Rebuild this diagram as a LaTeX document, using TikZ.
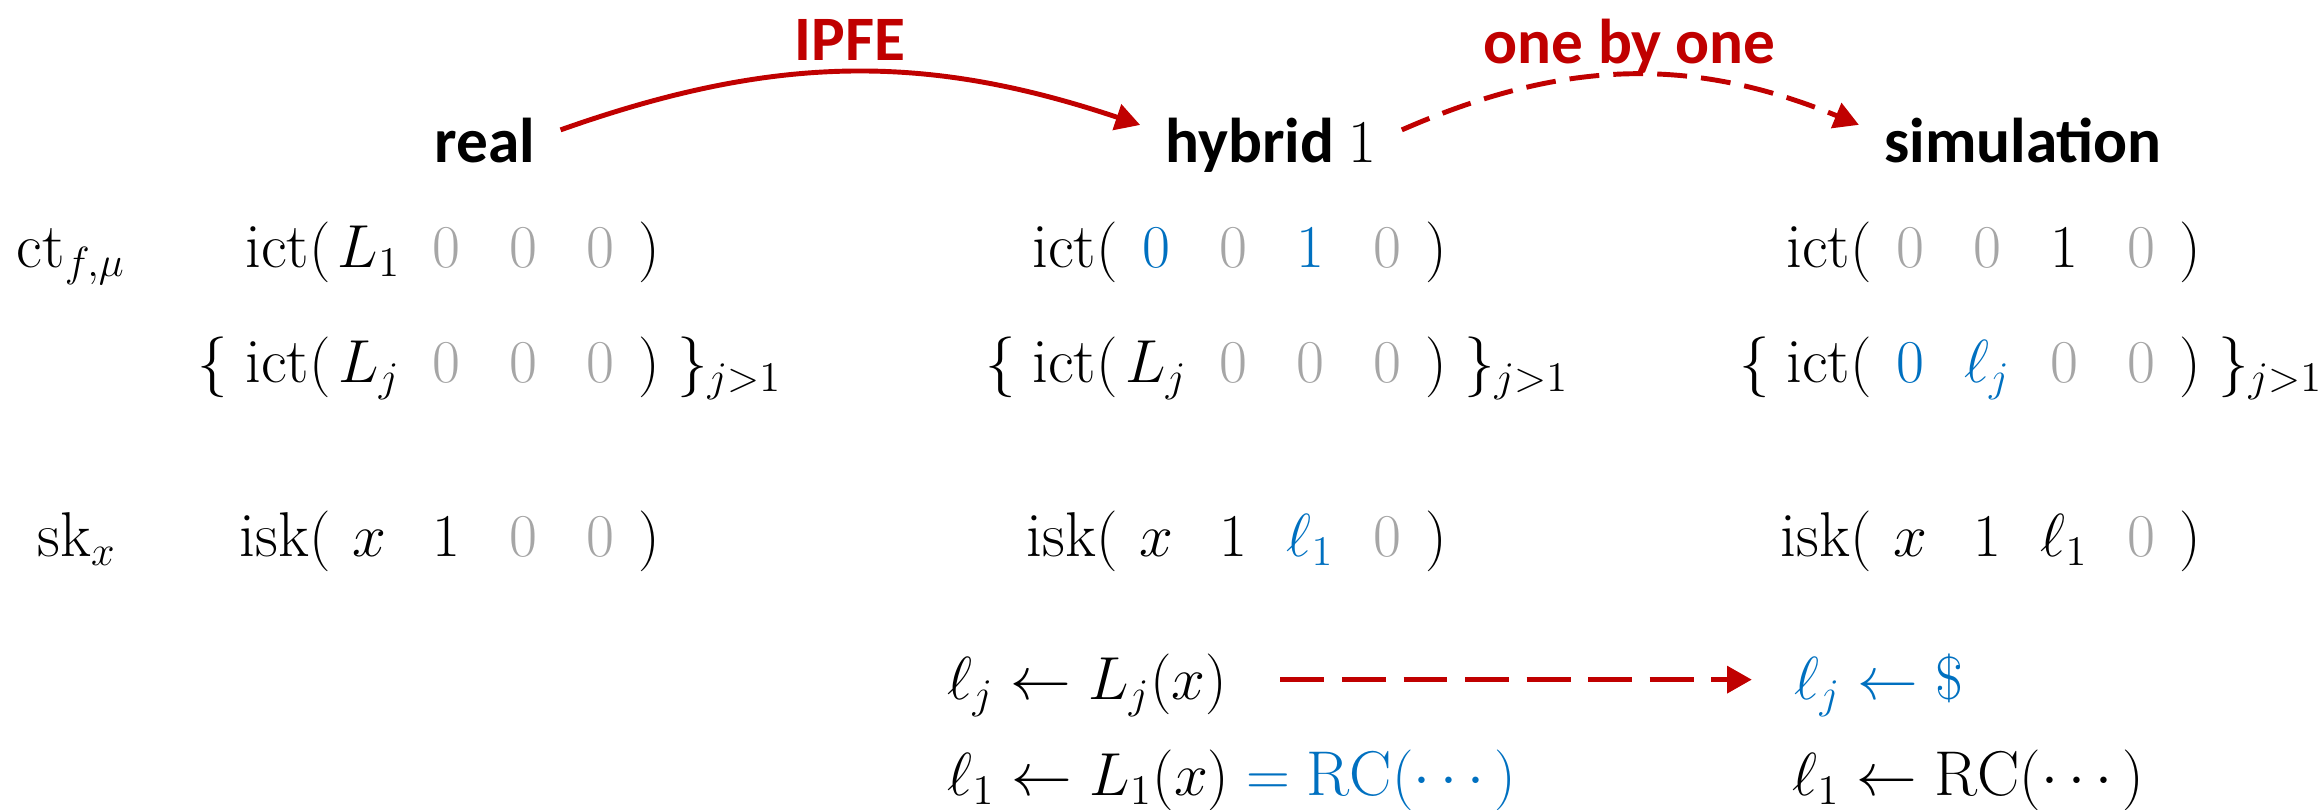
\documentclass[tikz,border=0pt]{standalone}
\usepackage{fontspec}
\usepackage{amsmath}
\usetikzlibrary{arrows.meta}
\newfontfamily\headfont{Carlito}
\definecolor{entblue}{HTML}{0070C0}
\definecolor{entgray}{HTML}{A6A6A6}
\definecolor{arcred}{HTML}{C00000}
\newcommand{\vcell}[1]{\makebox[0.77cm]{$#1$}}
\newcommand{\grayzero}{\vcell{\color{entgray}0}}
\newcommand{\bluecell}[1]{\vcell{\color{entblue}#1}}

\begin{document}
\begin{tikzpicture}[x=0.01cm,y=-0.01cm,
    >={Triangle[length=7pt,width=7.5pt]},
    vecrow/.style={anchor=base west,inner sep=0pt,font=\fontsize{18}{22}\selectfont},
    head/.style={anchor=base,inner xsep=7pt,inner ysep=0pt,
                 font=\headfont\bfseries\fontsize{18}{22}\selectfont},
    lbl/.style={above,text depth=0pt,inner sep=2.5pt,text=arcred,
                font=\headfont\bfseries\fontsize{18}{22}\selectfont},
    arc/.style={->,arcred,line width=1.4pt}
  ]
  \useasboundingbox (0,0) rectangle (2318,809);
  % stage headers
  \node[head] (real) at (485,162) {real};
  \node[head] (hyb) at (1271,162) {hybrid $1$};
  \node[head] (sim) at (2023,162) {simulation};
  \draw[arc] ([yshift=-3.7pt]real.north east) to[bend left=19]
    node[lbl] {IPFE} ([yshift=-2.3pt]hyb.north west);
  \draw[arc,dash pattern=on 8.5pt off 4pt] ([yshift=-3.7pt]hyb.north east)
    to[bend left=23] node[lbl] {one by one} ([yshift=-2.3pt]sim.north west);
  % row labels
  \node[vecrow] (ctlab) at (16,267) {$\mathrm{ct}_{f,\mu}$};
  \node[vecrow] (sklab) at (37,556) {$\mathrm{sk}_x$};
  % real
  \node[vecrow] (ctreal) at (330,267)
    {\llap{$\mathrm{ict}($}\vcell{L_1}\grayzero\grayzero\grayzero$)$};
  \node[vecrow] (ctjreal) at (330,382)
    {\llap{$\{\;\mathrm{ict}($}\vcell{L_j}\grayzero\grayzero\grayzero$)\;\}_{j>1}$};
  \node[vecrow] (skreal) at (330,556)
    {\llap{$\mathrm{isk}($}\vcell{x}\vcell{1}\grayzero\grayzero$)$};
  % hybrid 1
  \node[vecrow] (cthyb) at (1117,267)
    {\llap{$\mathrm{ict}($}\bluecell{0}\grayzero\bluecell{1}\grayzero$)$};
  \node[vecrow] (ctjhyb) at (1117,382)
    {\llap{$\{\;\mathrm{ict}($}\vcell{L_j}\grayzero\grayzero\grayzero$)\;\}_{j>1}$};
  \node[vecrow] (skhyb) at (1117,556)
    {\llap{$\mathrm{isk}($}\vcell{x}\vcell{1}\bluecell{\ell_1}\grayzero$)$};
  % simulation
  \node[vecrow] (ctsim) at (1871,267)
    {\llap{$\mathrm{ict}($}\grayzero\grayzero\vcell{1}\grayzero$)$};
  \node[vecrow] (ctjsim) at (1871,382)
    {\llap{$\{\;\mathrm{ict}($}\bluecell{0}\bluecell{\ell_j}\grayzero\grayzero$)\;\}_{j>1}$};
  \node[vecrow] (sksim) at (1871,556)
    {\llap{$\mathrm{isk}($}\vcell{x}\vcell{1}\vcell{\ell_1}\grayzero$)$};
  % labels
  \node[vecrow] (ljhyb) at (947,699) {$\ell_j \leftarrow L_j(x)$};
  \node[vecrow] (l1hyb) at (947,795)
    {$\ell_1 \leftarrow L_1(x) \mathrel{\textcolor{entblue}{=}}
      \textcolor{entblue}{\mathrm{RC}(\cdots)}$};
  \node[vecrow,text=entblue] (ljsim) at (1794,699) {$\ell_j \leftarrow \$$};
  \node[vecrow] (l1sim) at (1792,795) {$\ell_1 \leftarrow \mathrm{RC}(\cdots)$};
  \draw[arc,dash pattern=on 12.5pt off 5pt,shorten <=15pt,shorten >=12pt]
    ([yshift=1.5pt]ljhyb.east) -- ([yshift=1.5pt]ljhyb.east -| ljsim.west);
\end{tikzpicture}
\end{document}
